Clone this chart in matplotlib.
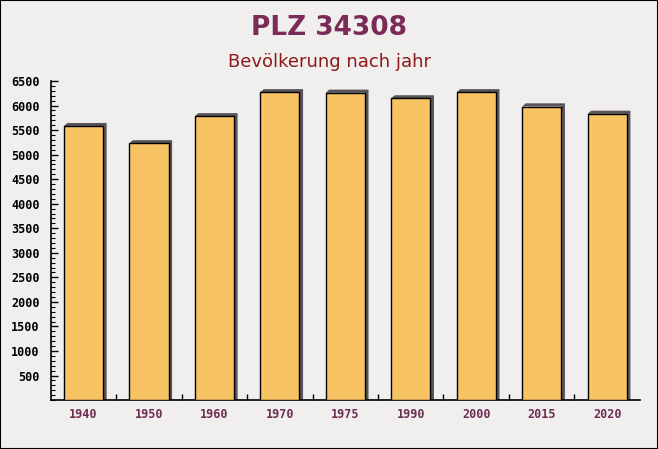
import matplotlib.pyplot as plt
from matplotlib.patches import Polygon, Rectangle
from matplotlib.ticker import MultipleLocator

# Daten
jahre = ["1940", "1950", "1960", "1970", "1975", "1990", "2000", "2015", "2020"]
einwohner = [5580, 5230, 5780, 6270, 6260, 6145, 6270, 5980, 5830]

bg = "#f1eeee"
fig = plt.figure(figsize=(6.58, 4.49), dpi=100, facecolor=bg)
ax = fig.add_axes([0.077, 0.109, 0.8955, 0.7106])
ax.set_facecolor("none")

x = list(range(len(jahre)))
breite = 0.6
dx, dy = 0.055, 65  # 3D-Schatten nach rechts oben

# Schatten hinter den Balken
for xi, v in zip(x, einwohner):
    l, r = xi - breite / 2, xi + breite / 2
    ax.add_patch(Polygon([(l, v), (l + dx, v + dy), (r + dx, v + dy),
                          (r + dx, 0), (r, 0), (r, v)],
                         closed=True, facecolor="#58545a", edgecolor="none", zorder=2))

ax.bar(x, einwohner, width=breite, color="#f8c463", edgecolor="black",
       linewidth=1.0, zorder=3)

ax.set_xlim(-0.5, len(jahre) - 0.5)
ax.set_ylim(0, 6500)

# Achsen
for s in ["top", "right"]:
    ax.spines[s].set_visible(False)
ax.spines["left"].set_linewidth(1.2)
ax.spines["bottom"].set_linewidth(1.2)

ax.yaxis.set_major_locator(MultipleLocator(500))
ax.yaxis.set_minor_locator(MultipleLocator(100))
ax.tick_params(axis="y", which="major", direction="in", length=5, width=1, pad=8)
ax.tick_params(axis="y", which="minor", direction="in", length=3, width=0.8)
yt = list(range(500, 6501, 500))
ax.set_yticks(yt)
ax.set_yticklabels([str(v) for v in yt], fontfamily="DejaVu Sans Mono",
                   fontweight="bold", fontsize=8.5, color="black")

ax.set_xticks(x)
ax.set_xticklabels(jahre, fontfamily="DejaVu Sans Mono", fontweight="bold",
                   fontsize=8.5, color="#6e2e52")
ax.tick_params(axis="x", which="major", length=0, pad=6)
ax.set_xticks([i + 0.5 for i in x[:-1]], minor=True)
ax.tick_params(axis="x", which="minor", direction="in", length=4, width=1)

# Titel
fig.text(0.5, 0.937, "PLZ 34308", ha="center", va="center", fontsize=19,
         fontweight="bold", color="#7a2b57")
fig.text(0.5, 0.863, "Bevölkerung nach jahr", ha="center", va="center",
         fontsize=13, color="#8b1a1a")

# Rahmen
fig.add_artist(Rectangle((0, 0), 1, 1, transform=fig.transFigure, fill=False,
                         edgecolor="black", linewidth=1.5))

fig.savefig("out.png", dpi=100, facecolor=bg)
